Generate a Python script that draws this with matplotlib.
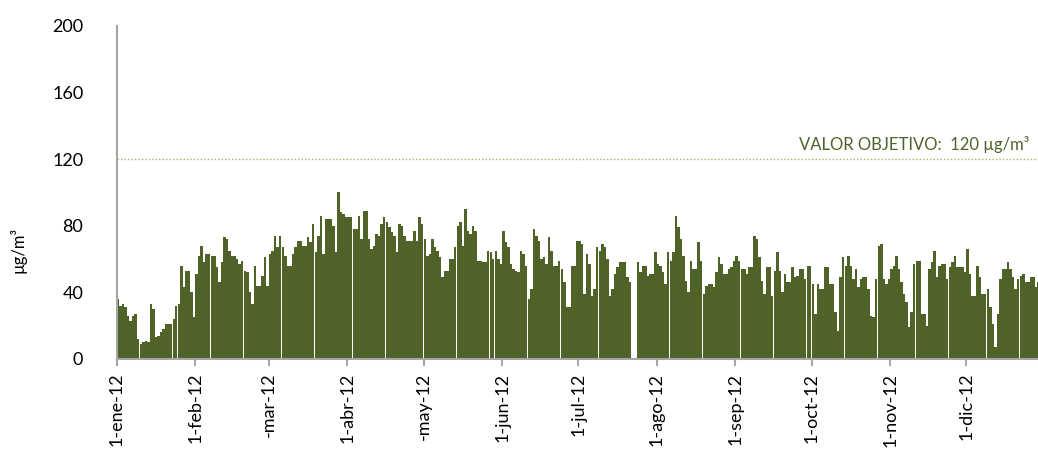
import numpy as np
import matplotlib
matplotlib.use("Agg")
import matplotlib.pyplot as plt

# daily values (µg/m3), 2012
ene = [36, 32, 33, 31, 26, 23, 26, 27, 12, 9, 10, 11, 10, 33, 30, 13, 14, 16, 18, 21,
       21, 21, 24, 32, 33, 56, 43, 53, 53, 40, 25]
feb = [51, 62, 68, 58, 63, 63, 62, 62, 55, 46, 58, 73, 72, 65, 62, 62, 60, 57, 59, 53,
       52, 40, 33, 56, 44, 44, 50, 61, 44]
mar = [63, 65, 74, 67, 74, 67, 62, 56, 56, 63, 67, 71, 71, 68, 68, 73, 70, 81, 64, 74,
       86, 63, 84, 84, 84, 80, 64, 100, 88, 87, 85]
abr = [85, 85, 78, 78, 86, 72, 89, 89, 72, 66, 68, 75, 74, 81, 85, 82, 79, 76, 74, 64,
       81, 80, 74, 71, 71, 71, 77, 71, 85, 81]
may = [72, 62, 63, 72, 67, 65, 61, 49, 53, 53, 60, 60, 67, 80, 82, 68, 90, 77, 75, 80,
       77, 59, 59, 58, 58, 65, 64, 60, 65, 60, 57]
jun = [77, 70, 67, 57, 54, 53, 52, 65, 63, 56, 36, 42, 78, 74, 71, 60, 61, 57, 73, 65,
       56, 56, 59, 54, 46, 31, 31, 56, 56, 71]
jul = [71, 69, 39, 63, 57, 38, 42, 67, 65, 69, 67, 60, 38, 42, 51, 55, 58, 58, 58, 49,
       46, 0, 0, 58, 52, 56, 56, 50, 51, 51, 64]
ago = [57, 56, 52, 45, 64, 59, 64, 86, 79, 72, 62, 47, 40, 59, 54, 54, 70, 59, 39, 44,
       45, 45, 43, 52, 61, 57, 51, 51, 54, 55, 59]
sep = [62, 59, 54, 54, 51, 55, 55, 74, 72, 61, 47, 39, 55, 55, 38, 53, 64, 53, 40, 51,
       46, 46, 55, 49, 50, 54, 54, 48, 56, 56]
oct_ = [45, 27, 45, 42, 42, 55, 55, 45, 45, 28, 17, 49, 61, 56, 62, 56, 48, 54, 43, 48,
        49, 49, 42, 26, 25, 48, 68, 69, 48, 45, 48]
nov = [54, 56, 62, 54, 46, 39, 34, 19, 28, 57, 59, 59, 27, 27, 20, 54, 58, 65, 49, 56,
       57, 57, 48, 55, 58, 62, 55, 55, 55, 52]
dic = [66, 51, 38, 38, 56, 49, 39, 39, 42, 31, 21, 7, 27, 48, 54, 54, 58, 54, 49, 42,
       48, 50, 51, 46, 46, 49, 49, 43, 46, 54, 54]

meses = [ene, feb, mar, abr, may, jun, jul, ago, sep, oct_, nov, dic]
etiquetas = ["1-ene-12", "1-feb-12", "-mar-12", "1-abr-12", "-may-12", "1-jun-12",
             "1-jul-12", "1-ago-12", "1-sep-12", "1-oct-12", "1-nov-12", "1-dic-12"]
valor_objetivo = 120

valores = np.concatenate(meses)
dias = np.arange(len(valores))
inicio_mes = np.cumsum([0] + [len(m) for m in meses[:-1]])

verde = "#4F6228"
gris = "#A6A6A6"

plt.rcParams["font.family"] = ["Lato", "DejaVu Sans"]

fig = plt.figure(figsize=(10.38, 4.59), dpi=100)
ax = fig.add_axes([0.1124, 0.218, 0.8876, 0.7255])

ax.bar(dias + 0.5, valores, width=0.97, color=verde, linewidth=0)

# target value line
ax.axhline(valor_objetivo, color="#9BBB59", linestyle=(0, (1, 1.5)), linewidth=1)
ax.text(360, valor_objetivo + 3.5, "VALOR OBJETIVO:  120 µg/m³", color=verde,
        fontsize=12, ha="right", va="bottom")

ax.set_xlim(0, 363.3)
ax.set_ylim(0, 200)
ax.set_yticks(np.arange(0, 201, 40))
ax.set_xticks(inicio_mes)
ax.set_xticklabels(etiquetas, rotation=90, fontsize=13)

ax.tick_params(axis="y", length=0, pad=24, labelsize=13)
ax.tick_params(axis="x", length=5, width=1.5, color=gris, pad=5)

for s in ["top", "right"]:
    ax.spines[s].set_visible(False)
for s in ["left", "bottom"]:
    ax.spines[s].set_color(gris)
    ax.spines[s].set_linewidth(1.5)

fig.text(0.017, 0.455, "µg/m³", rotation=90, fontsize=12, ha="center", va="center")

fig.savefig("out.png", dpi=100)
